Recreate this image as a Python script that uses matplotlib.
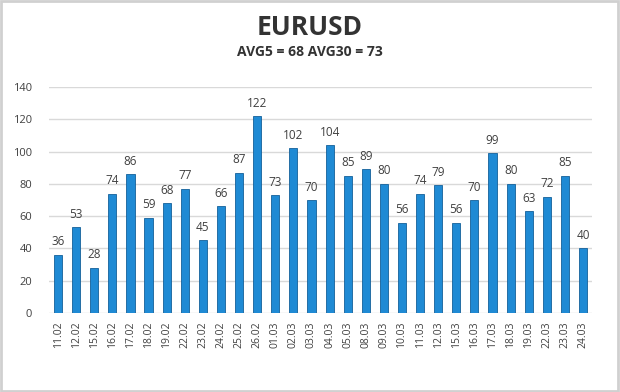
import matplotlib.pyplot as plt
from matplotlib.patches import Rectangle

dates = ['11.02', '12.02', '15.02', '16.02', '17.02', '18.02', '19.02', '22.02',
         '23.02', '24.02', '25.02', '26.02', '01.03', '02.03', '03.03', '04.03',
         '05.03', '08.03', '09.03', '10.03', '11.03', '12.03', '15.03', '16.03',
         '17.03', '18.03', '19.03', '22.03', '23.03', '24.03']
values = [36, 53, 28, 74, 86, 59, 68, 77, 45, 66, 87, 122, 73, 102, 70, 104,
          85, 89, 80, 56, 74, 79, 56, 70, 99, 80, 63, 72, 85, 40]
yticks = [0, 20, 40, 60, 80, 100, 120, 140]

plt.rcParams['font.family'] = ['Open Sans', 'DejaVu Sans']
txt = '#404040'

fig = plt.figure(figsize=(6.2, 3.92), dpi=100)
fig.patches.append(Rectangle((0.002, 0.003), 0.995, 0.994, transform=fig.transFigure,
                             fill=False, edgecolor='#d0d0d0', linewidth=2))
ax = fig.add_axes([0.079, 0.2015, 0.876, 0.5765])

x = range(len(values))
ax.bar(x, values, width=0.45, color='#1f8ad4', edgecolor='#14609a', linewidth=0.6, zorder=3)
for i, v in zip(x, values):
    ax.text(i, v + 4, str(v), ha='center', va='bottom', fontsize=8.5, color=txt)

ax.set_xlim(-0.5, len(values) - 0.5)
ax.set_ylim(0, 140)
ax.set_yticks(yticks)
ax.set_xticks(list(x))
ax.set_xticklabels(dates, rotation=90, fontsize=7.5, color=txt)
ax.tick_params(axis='y', labelsize=8, colors=txt, length=0, pad=12)
ax.tick_params(axis='x', length=0, pad=6)
ax.grid(axis='y', color='#d9d9d9', linewidth=1, zorder=0)
for s in ax.spines.values():
    s.set_visible(False)

fig.text(0.5, 0.93, 'EURUSD', ha='center', va='center', fontsize=19,
         fontweight='bold', color='#333333')
fig.text(0.5, 0.868, 'AVG5 = 68 AVG30 = 73', ha='center', va='center', fontsize=10,
         fontweight='bold', color='#333333')

fig.savefig('out.png', dpi=100)
